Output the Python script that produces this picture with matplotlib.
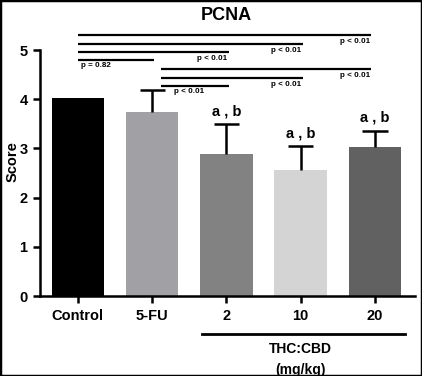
import matplotlib
matplotlib.use("Agg")
import matplotlib.pyplot as plt
from matplotlib.patches import Rectangle

categories = ["Control", "5-FU", "2", "10", "20"]
means = [4.02, 3.75, 2.89, 2.57, 3.02]
errors = [0.0, 0.44, 0.60, 0.48, 0.34]
bar_colors = ["#000000", "#a0a0a5", "#828282", "#d4d4d4", "#616161"]
letters = ["", "", "a , b", "a , b", "a , b"]
yticks = [0, 1, 2, 3, 4, 5]

# significance brackets: (start idx, end idx, height, label)
comparisons = [
    (0, 4, 5.30, "p < 0.01"),
    (0, 3, 5.12, "p < 0.01"),
    (0, 2, 4.96, "p < 0.01"),
    (0, 1, 4.80, "p = 0.82"),
    (1, 4, 4.61, "p < 0.01"),
    (1, 3, 4.43, "p < 0.01"),
    (1, 2, 4.27, "p < 0.01"),
]

plt.rcParams['font.family'] = ['Liberation Sans', 'DejaVu Sans']
fig = plt.figure(figsize=(4.22, 3.76), dpi=100)
ax = fig.add_axes([40/422, 80/376, 375/422, 268/376])

x = list(range(len(categories)))
ax.bar(x, means, width=0.71, color=bar_colors, zorder=2)
cap_half = 0.17
for xi, m, e in zip(x, means, errors):
    if e > 0:
        ax.vlines(xi, m, m + e, color='black', lw=1.8, zorder=3)
        ax.hlines(m + e, xi - cap_half, xi + cap_half, color='black', lw=1.8,
                  zorder=3)
for xi, m, e, t in zip(x, means, errors, letters):
    if t:
        ax.text(xi, m + e + 0.12, t, ha='center', va='bottom',
                fontsize=10.5, fontweight='bold')

for i0, i1, h, lab in comparisons:
    xs = i0 + (0.12 if i0 == 1 else 0.0)
    xe = i1 - (0.05 if i1 == 4 else -0.03)
    ax.plot([xs, xe], [h, h], color='black', lw=1.6, solid_capstyle='butt',
            clip_on=False)
    if lab.startswith("p ="):
        ax.text(xs + 0.04, h - 0.05, lab, ha='left', va='top', fontsize=5.8,
                fontweight='bold')
    elif i0 == 1 and i1 == 2:
        ax.text(xs + 0.18, h - 0.05, lab, ha='left', va='top', fontsize=5.8,
                fontweight='bold')
    else:
        ax.text(xe - 0.02, h - 0.05, lab, ha='right', va='top', fontsize=5.8,
                fontweight='bold')

ax.set_xlim(-0.51, 4.54)
ax.set_ylim(0, 5.45)
ax.spines['top'].set_visible(False)
ax.spines['right'].set_visible(False)
ax.spines['left'].set_bounds(0, 5)
ax.spines['left'].set_linewidth(1.8)
ax.spines['bottom'].set_linewidth(1.8)
ax.set_yticks(yticks)
ax.set_yticklabels([str(v) for v in yticks], fontsize=10.5, fontweight='bold')
ax.set_xticks(x)
ax.set_xticklabels(categories, fontsize=10.5, fontweight='bold')
ax.tick_params(axis='both', width=1.8, length=5, pad=4)
ax.set_ylabel("Score", fontsize=10.5, fontweight='bold', labelpad=0)
fig.text(226/422, 1 - 16/376, "PCNA", ha='center', va='center', fontsize=13,
         fontweight='bold')

# THC:CBD group bracket
ax.plot([1.67, 4.4], [-0.78, -0.78], color='black', lw=2, clip_on=False)
ax.text(3.0, -1.08, "THC:CBD", ha='center', va='center', fontsize=10,
        fontweight='bold')
ax.text(3.0, -1.5, "(mg/kg)", ha='center', va='center', fontsize=10,
        fontweight='bold')

fig.patches.append(Rectangle((0, 0), 1, 1, transform=fig.transFigure,
                             fill=False, edgecolor='black', lw=2.5))

fig.savefig("out.png", dpi=100)
